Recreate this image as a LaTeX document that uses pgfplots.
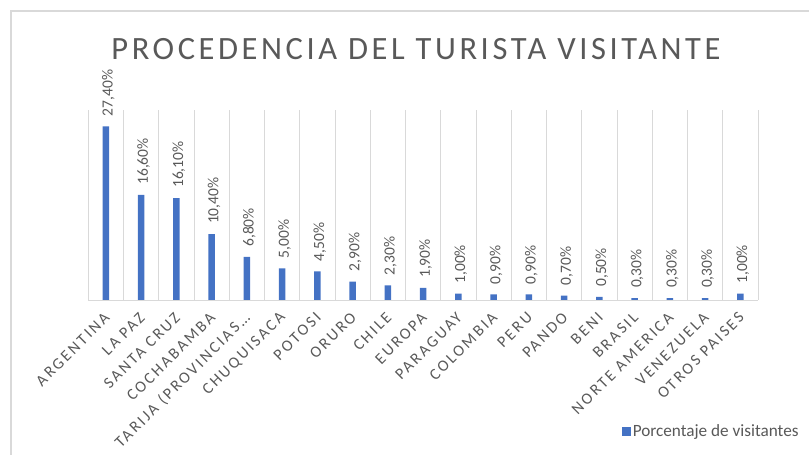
\documentclass[border=0pt]{standalone}
\usepackage{pgfplots}
\pgfplotsset{compat=1.18}
\usepackage{fontspec}
\setmainfont{Carlito}
\newfontfamily\titlefont[LetterSpace=11]{Carlito}
\newfontfamily\tickfont[LetterSpace=15]{Carlito}
\definecolor{txt}{RGB}{89,89,89}
\definecolor{gridc}{RGB}{217,217,217}
\definecolor{barc}{RGB}{68,114,196}
\begin{document}
\begin{tikzpicture}[x=1pt,y=1pt]
\useasboundingbox (0,0) rectangle (809,455);
\draw[gridc,line width=1.2pt] (11,0) -- (11,444) -- (809,444);
\node[anchor=base,text=txt,font=\titlefont\fontsize{32.5}{36}\selectfont,inner sep=0pt] at (416,395.7) {PROCEDENCIA DEL TURISTA VISITANTE};
\begin{axis}[
  at={(88.3pt,155pt)}, anchor=south west,
  scale only axis, width=669.7pt, height=190pt,
  xmin=-0.5, xmax=18.5, ymin=0, ymax=30,
  axis x line*=bottom, axis y line=none,
  x axis line style={gridc,line width=0.9pt,-},
  xtick={0,...,18},
  xticklabels={ARGENTINA,LA PAZ,SANTA CRUZ,COCHABAMBA,{TARIJA (PROVINCIAS.\kern0pt.\kern0pt.},CHUQUISACA,POTOSI,ORURO,CHILE,EUROPA,PARAGUAY,COLOMBIA,PERU,PANDO,BENI,BRASIL,NORTE AMERICA,VENEZUELA,OTROS PAISES},
  xticklabel style={yshift=-15pt,xshift=1pt,rotate=45,anchor=east,inner sep=0pt,text=txt,font=\tickfont\fontsize{16}{18}\selectfont},
  major tick length=0pt, minor tick length=0pt,
  minor xtick={-0.5,0.5,...,18.5},
  minor x grid style={gridc,line width=0.9pt},
  xminorgrids=true,
  ytick=\empty,
  clip=false,
  legend style={draw=none,at={(0.797,-0.69)},anchor=west,inner sep=0pt,font=\fontsize{17.2}{19}\selectfont,text=txt},
  legend image code/.code={\fill[#1] (0pt,-4.5pt) rectangle (8.5pt,4.5pt);},
]
\addplot[ybar,bar width=6.5pt,fill=barc,draw=none,
  nodes near coords={\pgfmathprintnumber[fixed,fixed zerofill,precision=2,use comma,assume math mode=true]{\pgfplotspointmeta}\%},
  nodes near coords style={font=\fontsize{15.5}{17}\selectfont,text=txt,inner sep=0pt,yshift=10pt,xshift=2.5pt,rotate=90,anchor=west}]
coordinates {(0,27.4) (1,16.6) (2,16.1) (3,10.4) (4,6.8) (5,5.0) (6,4.5) (7,2.9) (8,2.3) (9,1.9) (10,1.0) (11,0.9) (12,0.9) (13,0.7) (14,0.5) (15,0.3) (16,0.3) (17,0.3) (18,1.0)};
\addlegendentry{Porcentaje de visitantes}
\end{axis}
\end{tikzpicture}
\end{document}
